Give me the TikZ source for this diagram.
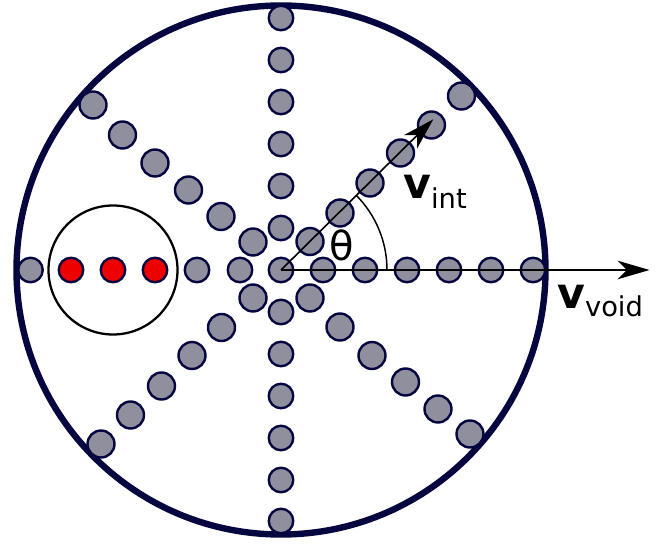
\documentclass[tikz,border=0pt]{standalone}
\usepackage{fontspec}
\setmainfont{DejaVu Sans}
\usetikzlibrary{arrows.meta}
\definecolor{navy}{RGB}{5,5,64}
\definecolor{beadgray}{RGB}{143,143,158}
\definecolor{beadred}{RGB}{238,0,0}
\begin{document}
\begin{tikzpicture}[x=0.75pt,y=-0.75pt,
  bead/.style={circle,draw=navy,line width=1.8pt,fill=beadgray,minimum size=24.5*0.75pt,inner sep=0pt},
  dbead/.style={bead,minimum size=27*0.75pt},
  rbead/.style={bead,fill=beadred},
  vec/.style={line width=1.2pt,-{Stealth[length=24pt,width=14pt,inset=7pt]}},
  lbl/.style={inner sep=0pt,anchor=base west}]
\useasboundingbox (0,0) rectangle (664,545);
% outer ring
\node[circle,draw=navy,line width=4.8pt,minimum size=529*0.75pt,inner sep=0pt] (ring) at (281,270) {};
% enclosing circle
\node[circle,draw=black,line width=1.7pt,minimum size=129*0.75pt,inner sep=0pt] (pocket) at (113,270) {};
% centre bead
\node[bead] (c0) at (281,270) {};
\coordinate (o) at (281,270);
% horizontal right
\foreach \x [count=\i] in {323,365,407,449,491,533}
  \node[bead] (hr\i) at (\x,270) {};
% horizontal left
\node[bead] (hl1) at (240,270) {};
\node[bead] (hl2) at (197,270) {};
\node[rbead] (hl3) at (155,270) {};
\node[rbead] (hl4) at (113,270) {};
\node[rbead] (hl5) at (71,270) {};
\node[bead] (hl6) at (30.5,270) {};
% vertical
\foreach \y [count=\i] in {228,186,144,102,60,18}
  \node[bead] (vu\i) at (281,\y) {};
\foreach \y [count=\i] in {312,354,396,438,480,521}
  \node[bead] (vd\i) at (281,\y) {};
% diagonals
\foreach \p [count=\i] in {(310,241.5),(340,213),(370,183),(400.5,153),(431.5,125),(461.5,96)}
  \node[dbead] (ur\i) at \p {};
\foreach \p [count=\i] in {(253,242),(221,216.5),(188.5,190),(155,163),(122.5,135),(93,105)}
  \node[dbead] (ul\i) at \p {};
\foreach \p [count=\i] in {(253,298),(221.5,327.5),(192,355.5),(161.5,386),(130.5,415),(101,444)}
  \node[dbead] (ll\i) at \p {};
\foreach \p [count=\i] in {(310,298),(340,327),(372,355.5),(405.5,382),(438,409),(470,434)}
  \node[dbead] (lr\i) at \p {};
% vectors
\coordinate (tipint) at (433.3,119.3);
\coordinate (tipvoid) at (649.5,270);
\draw[vec] (o) -- (tipint);
\draw[vec] (o) -- (tipvoid);
% angle arc
\draw[line width=1.1pt] (387,270) arc[start angle=0,end angle=44.8,radius=106*0.75pt];
% labels
\node (theta) at (341.5,245.5) {\fontsize{30}{30}\selectfont θ};
\node[lbl] (lint) at (403,198.3) {\fontsize{32}{32}\selectfont\bfseries v\raisebox{-7.5pt}{\fontsize{20.5}{20.5}\mdseries\selectfont int}};
\node[lbl] (lvoid) at (557,308.3) {\fontsize{32}{32}\selectfont\bfseries v\raisebox{-6.5pt}{\fontsize{20.5}{20.5}\mdseries\selectfont void}};
\end{tikzpicture}
\end{document}
